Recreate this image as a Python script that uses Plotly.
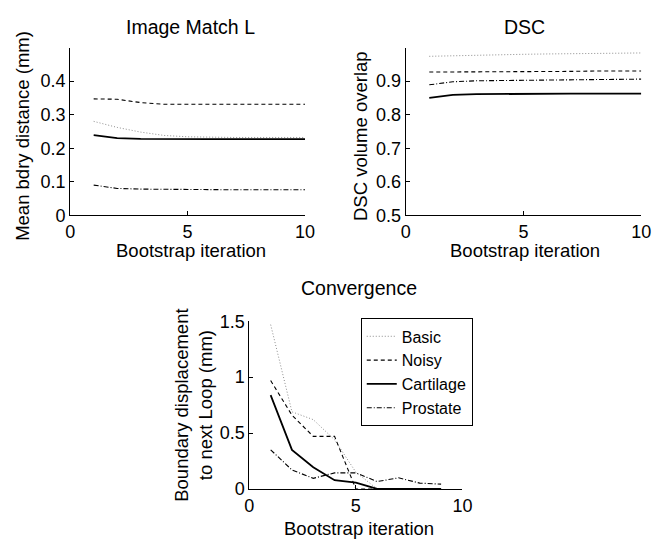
import plotly.graph_objects as go

iters = [1, 2, 3, 4, 5, 6, 7, 8, 9, 10]
conv_iters = [1, 2, 3, 4, 5, 6, 7, 8, 9]
series = ["Basic", "Noisy", "Cartilage", "Prostate"]

bdry_basic = [0.280, 0.262, 0.248, 0.238, 0.234, 0.232, 0.232, 0.232, 0.232, 0.232]
bdry_noisy = [0.347, 0.346, 0.336, 0.331, 0.331, 0.331, 0.331, 0.331, 0.331, 0.331]
bdry_cart = [0.239, 0.230, 0.228, 0.227, 0.227, 0.227, 0.227, 0.227, 0.227, 0.227]
bdry_prost = [0.090, 0.080, 0.078, 0.077, 0.077, 0.077, 0.076, 0.076, 0.076, 0.076]

dsc_basic = [0.974, 0.976, 0.978, 0.979, 0.980, 0.981, 0.982, 0.983, 0.983, 0.984]
dsc_noisy = [0.927, 0.927, 0.928, 0.928, 0.929, 0.929, 0.929, 0.930, 0.930, 0.930]
dsc_cart = [0.850, 0.859, 0.861, 0.862, 0.862, 0.863, 0.863, 0.863, 0.863, 0.863]
dsc_prost = [0.889, 0.898, 0.901, 0.902, 0.903, 0.904, 0.905, 0.905, 0.906, 0.906]

conv_basic = [1.47, 0.69, 0.62, 0.44, 0.15, 0.0, 0.0, 0.0, 0.0]
conv_noisy = [0.97, 0.66, 0.47, 0.47, 0.0, 0.0, 0.0, 0.0, 0.0]
conv_cart = [0.84, 0.35, 0.195, 0.078, 0.057, 0.0, 0.0, 0.0, 0.0]
conv_prost = [0.35, 0.17, 0.095, 0.144, 0.144, 0.066, 0.10, 0.052, 0.043]

styles = {
    "Basic": dict(color="#8c8c8c", dash="1px,2px", width=1),
    "Noisy": dict(color="black", dash="4px,3px", width=1.1),
    "Cartilage": dict(color="black", dash="solid", width=1.8),
    "Prostate": dict(color="black", dash="5px,2px,1px,2px", width=1.1),
}

FONT = "Liberation Sans, Arial, Helvetica, sans-serif"
fig = go.Figure()

panels = [
    ("x", "y", iters, [bdry_basic, bdry_noisy, bdry_cart, bdry_prost], False),
    ("x2", "y2", iters, [dsc_basic, dsc_noisy, dsc_cart, dsc_prost], False),
    ("x3", "y3", conv_iters, [conv_basic, conv_noisy, conv_cart, conv_prost], True),
]
for xa, ya, xs, vals, legend in panels:
    for name, v in zip(series, vals):
        fig.add_trace(go.Scatter(x=xs, y=v, mode="lines", name=name, line=styles[name],
                                 xaxis=xa, yaxis=ya, showlegend=legend))

W, H = 663, 551
def dx(a, b):
    return [a / W, b / W]
def dy(top, bot):
    return [(H - bot) / H, (H - top) / H]

axis_common = dict(showline=True, linecolor="black", linewidth=1, ticks="inside",
                   ticklen=4, tickcolor="black", showgrid=False, zeroline=False,
                   mirror=False, tickfont=dict(size=18, color="black"))

fig.update_layout(
    width=W, height=H, margin=dict(l=0, r=0, t=0, b=0),
    paper_bgcolor="white", plot_bgcolor="white",
    font=dict(family=FONT, color="black"),
    xaxis=dict(domain=dx(66.7, 307), anchor="y", range=[0, 10], tickvals=[0, 5, 10],
               **axis_common),
    yaxis=dict(domain=dy(39, 213), anchor="x", range=[0, 0.5], tickvals=[0, 0.1, 0.2, 0.3, 0.4],
               ticktext=["0", "0.1", "0.2", "0.3", "0.4"], **axis_common),
    xaxis2=dict(domain=dx(410, 651), anchor="y2", range=[0, 10], tickvals=[0, 5, 10],
                **axis_common),
    yaxis2=dict(domain=dy(39, 213), anchor="x2", range=[0.5, 1.0],
                tickvals=[0.5, 0.6, 0.7, 0.8, 0.9], **axis_common),
    xaxis3=dict(domain=dx(250, 468), anchor="y3", range=[0, 10], tickvals=[0, 5, 10],
                **axis_common),
    yaxis3=dict(domain=dy(323, 497), anchor="x3", range=[0, 1.5], tickvals=[0, 0.5, 1, 1.5],
                **axis_common),
    legend=dict(x=364 / W, y=(H - 320) / H, xanchor="left", yanchor="top",
                bordercolor="black", borderwidth=1, bgcolor="white",
                font=dict(size=16, color="black"), tracegroupgap=0,
                itemwidth=30),
    showlegend=True,
)

titles = [("Image Match L", 190, 18), ("DSC", 532, 18), ("Convergence", 362, 288)]
for t, cx, cy in titles:
    fig.add_annotation(text=t, x=cx / W, y=(H - cy) / H, xref="paper", yref="paper",
                       showarrow=False, xanchor="center", yanchor="middle",
                       font=dict(size=19.5, color="black"))

xtitles = [("Bootstrap iteration", 190, 250), ("Bootstrap iteration", 532, 250),
           ("Bootstrap iteration", 362, 538)]
for t, cx, cy in xtitles:
    fig.add_annotation(text=t, x=cx / W, y=(H - cy) / H, xref="paper", yref="paper",
                       showarrow=False, xanchor="center", yanchor="middle",
                       font=dict(size=18.5, color="black"))

ytitles = [("Mean bdry distance (mm)", 18, 131), ("DSC volume overlap", 363, 131),
           ("Boundary displacement<br>to next Loop (mm)", 192, 410)]
for t, cx, cy in ytitles:
    fig.add_annotation(text=t, x=cx / W, y=(H - cy) / H, xref="paper", yref="paper",
                       showarrow=False, xanchor="center", yanchor="middle", textangle=-90,
                       font=dict(size=18.5, color="black"))

fig.write_html("out.html", config={"displayModeBar": False},
               post_script="document.body.style.margin='0';document.body.style.overflow='hidden';")
